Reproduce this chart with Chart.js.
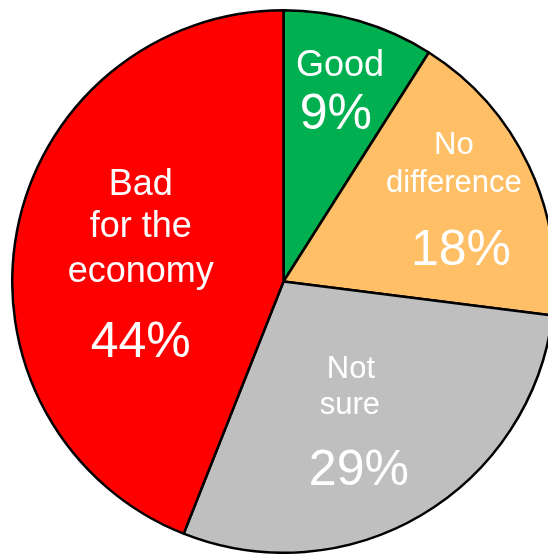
<!DOCTYPE html>
<html>
<head>
<meta charset="utf-8">
<script src="https://cdn.jsdelivr.net/npm/chart.js@4.4.1/dist/chart.umd.min.js"></script>
<style>
  html, body { margin: 0; padding: 0; background: #fff; overflow: hidden; width: 548px; height: 554px; }
  #wrap { position: absolute; left: 11px; top: 9px; width: 545px; height: 545px; }
</style>
</head>
<body>
<div id="wrap"><canvas id="pie" width="545" height="545"></canvas></div>
<script>
// data
var categories = ['Good', 'No difference', 'Not sure', 'Bad for the economy'];
var categoryLines = [['Good'], ['No', 'difference'], ['Not', 'sure'], ['Bad', 'for the', 'economy']];
var shares = [9, 18, 29, 44];

// slice colours
var sliceColors = ['#00B050', '#FFBF66', '#BFBFBF', '#FF0000'];

// where each label block sits: turn (deg) off the slice middle, reach as part of radius
var labelTurn = [-0.4, -0.6, 4.2, -3.4];
var labelReach = [0.737, 0.706, 0.567, 0.531];
// per line: font size, x shift, baseline shift from block centre (last line is the percent)
var labelLayout = [
    [[36, 2, -13], [50, -2, 39.5]],
    [[31, -2, -44], [31, -2, -6.5], [50, 5, 67]],
    [[31, -1, -41.5], [31, -2, -5], [50, 7, 65.5]],
    [[36, 0, -68], [36, 0, -25.5], [36, 0, 19.5], [50, 0, 94.5]]
];

var sliceLabels = {
    id: 'sliceLabels',
    afterDatasetsDraw: function (chart) {
        var ctx = chart.ctx;
        var arcs = chart.getDatasetMeta(0).data;
        ctx.save();
        ctx.fillStyle = '#ffffff';
        ctx.textAlign = 'center';
        ctx.textBaseline = 'alphabetic';
        for (var i = 0; i < arcs.length; i++) {
            var arc = arcs[i];
            var mid = (arc.startAngle + arc.endAngle) / 2 + labelTurn[i] * Math.PI / 180;
            var r = arc.outerRadius * labelReach[i];
            var ax = arc.x + Math.cos(mid) * r;
            var ay = arc.y + Math.sin(mid) * r;
            var lines = categoryLines[i].concat([shares[i] + '%']);
            for (var j = 0; j < lines.length; j++) {
                var lay = labelLayout[i][j];
                ctx.font = lay[0] + 'px "Liberation Sans", Arial, sans-serif';
                ctx.fillText(lines[j], ax + lay[1], ay + lay[2]);
            }
        }
        ctx.restore();
    }
};

new Chart(document.getElementById('pie').getContext('2d'), {
    type: 'pie',
    data: {
        labels: categories,
        datasets: [{
            data: shares,
            backgroundColor: sliceColors,
            borderColor: '#000000',
            borderWidth: 2.5
        }]
    },
    options: {
        responsive: false,
        animation: false,
        devicePixelRatio: 1,
        layout: {padding: 0},
        plugins: {legend: {display: false}, tooltip: {enabled: false}}
    },
    plugins: [sliceLabels]
});
</script>
</body>
</html>
